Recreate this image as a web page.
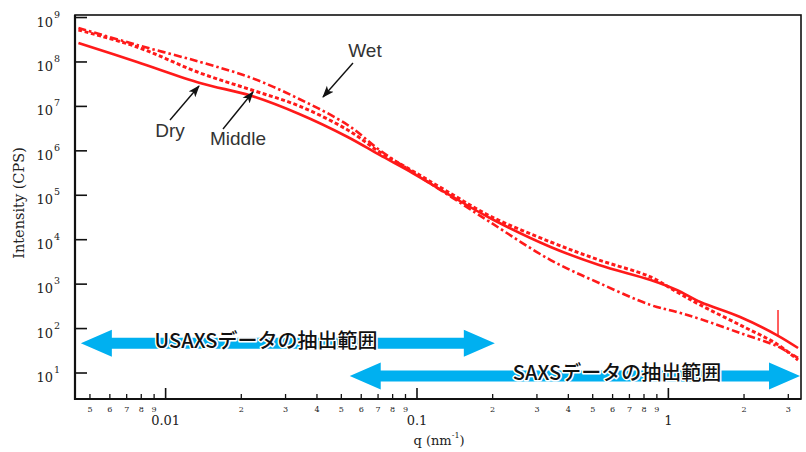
<!DOCTYPE html>
<html lang="ja">
<head>
<meta charset="utf-8">
<script src="https://cdn.jsdelivr.net/npm/d3@7"></script>
<style>
  html, body { margin: 0; padding: 0; background: #fff; }
  svg { display: block; }
</style>
</head>
<body>
<div id="chart"></div>
<script>
// q (nm^-1) sample points shared by the three curves
const qValues = [0.0045, 0.0077, 0.0137, 0.022, 0.034, 0.053, 0.071, 0.096, 0.135, 0.195, 0.34, 0.53, 0.85, 1.08, 1.34, 1.93, 2.7, 3.28];
const dryValues = [2.67e8, 1.0e8, 3.37e7, 1.72e7, 6.75e6, 2.05e6, 8.07e5, 3.17e5, 1.01e5, 3.08e4, 6.86e3, 2.70e3, 1.24e3, 738, 396, 182, 71.6, 36.6];
const middleValues = [5.25e8, 2.17e8, 5.65e7, 2.34e7, 1.02e7, 2.95e6, 9.42e5, 3.52e5, 1.13e5, 3.42e4, 8.88e3, 3.49e3, 1.45e3, 666, 339, 120, 45, 19.6];
const wetValues = [5.82e8, 2.41e8, 1.0e8, 4.36e7, 1.47e7, 3.82e6, 1.04e6, 3.34e5, 9.63e4, 2.5e4, 3.49e3, 1.06e3, 339, 236, 164, 79.4, 40.5, 21.8];

// glitch on the Dry curve near the end
const spikeQ = 2.73;
const spikeIntensity = [70, 262];

// axis ticks
const yMajorTicks = [1e1, 1e2, 1e3, 1e4, 1e5, 1e6, 1e7, 1e8, 1e9];
const yTickExponents = ['1', '2', '3', '4', '5', '6', '7', '8', '9'];
const xMajorTicks = [0.01, 0.1, 1];
const xMajorLabels = ['0.01', '0.1', '1'];
const xMinorTicks = [0.005, 0.006, 0.007, 0.008, 0.009, 0.02, 0.03, 0.04, 0.05, 0.06, 0.07, 0.08, 0.09, 0.2, 0.3, 0.4, 0.5, 0.6, 0.7, 0.8, 0.9, 2, 3];
const xMinorLabels = ['5', '6', '7', '8', '9', '2', '3', '4', '5', '6', '7', '8', '9', '2', '3', '4', '5', '6', '7', '8', '9', '2', '3'];

// q ranges of the extraction windows
const rangeNames = ['USAXSデータの抽出範囲', 'SAXSデータの抽出範囲'];
const rangeStart = [0.0046, 0.054];
const rangeEnd = [0.204, 3.34];
const rangeLevel = [47, 8.6];

const width = 806;
const height = 452;
const margin = { top: 15, right: 5, bottom: 53, left: 75 };
const red = '#ff1a1a';
const blue = '#00b0f0';
const serif = '"DejaVu Serif", "Liberation Serif", serif';

const svg = d3
  .select('#chart')
  .append('svg')
  .attr('width', width)
  .attr('height', height)
  .attr('viewBox', `0 0 ${width} ${height}`);

const x = d3
  .scaleLog()
  .domain([0.00436, 3.37])
  .range([margin.left, width - margin.right]);

const y = d3
  .scaleLog()
  .domain([2.6, 1.14e9])
  .range([height - margin.bottom, margin.top]);

const x0 = margin.left;
const x1 = width - margin.right;
const y0 = height - margin.bottom;
const y1 = margin.top;

// curves
const series = [
  { name: 'Dry', values: dryValues, dash: null, widthPx: 2.6 },
  { name: 'Middle', values: middleValues, dash: '4,2.5', widthPx: 3 },
  { name: 'Wet', values: wetValues, dash: '8,3,2.5,3', widthPx: 2.6 },
];

const line = d3
  .line()
  .x((d) => x(d[0]))
  .y((d) => y(d[1]))
  .curve(d3.curveCatmullRom.alpha(0.5));

svg
  .append('g')
  .selectAll('path')
  .data(series)
  .join('path')
  .attr('fill', 'none')
  .attr('stroke', red)
  .attr('stroke-width', (s) => s.widthPx)
  .attr('stroke-dasharray', (s) => s.dash)
  .attr('d', (s) => line(qValues.map((q, i) => [q, s.values[i]])));

svg
  .append('line')
  .attr('x1', x(spikeQ))
  .attr('x2', x(spikeQ))
  .attr('y1', y(spikeIntensity[0]))
  .attr('y2', y(spikeIntensity[1]))
  .attr('stroke', red)
  .attr('stroke-width', 1.4);

// blue double arrows for the extraction ranges
const shaftHalf = 5.5;
const headLen = 31;
const headHalf = 13.5;

const arrowPoints = (i) => {
  const a = x(rangeStart[i]);
  const b = x(rangeEnd[i]);
  const c = y(rangeLevel[i]);
  return [
    [a, c],
    [a + headLen, c - headHalf],
    [a + headLen, c - shaftHalf],
    [b - headLen, c - shaftHalf],
    [b - headLen, c - headHalf],
    [b, c],
    [b - headLen, c + headHalf],
    [b - headLen, c + shaftHalf],
    [a + headLen, c + shaftHalf],
    [a + headLen, c + headHalf],
  ];
};

const ranges = svg
  .append('g')
  .selectAll('g')
  .data(rangeNames)
  .join('g');

ranges
  .append('polygon')
  .attr('points', (d, i) => arrowPoints(i).map((p) => p.join(',')).join(' '))
  .attr('fill', blue);

ranges
  .append('text')
  .attr('x', (d, i) => (i === 0 ? 266 : 617))
  .attr('y', (d, i) => y(rangeLevel[i]) - 4)
  .attr('text-anchor', 'middle')
  .attr('dominant-baseline', 'central')
  .style('font-family', '"Noto Sans CJK JP", sans-serif')
  .style('font-size', '20px')
  .style('font-weight', '500')
  .style('fill', '#111')
  .style('stroke', '#fff')
  .style('stroke-width', '3px')
  .style('stroke-linejoin', 'round')
  .style('paint-order', 'stroke')
  .text((d) => d);

// frame and axes
svg
  .append('rect')
  .attr('x', x0)
  .attr('y', y1)
  .attr('width', x1 - x0)
  .attr('height', y0 - y1)
  .attr('fill', 'none')
  .attr('stroke', '#111')
  .attr('stroke-width', 1.6);

svg
  .append('path')
  .attr('d', `M${x0},${y1}V${y0}H${x1}`)
  .attr('fill', 'none')
  .attr('stroke', '#111')
  .attr('stroke-width', 2.2);

const yAxis = svg.append('g');

yAxis
  .selectAll('line')
  .data(yMajorTicks)
  .join('line')
  .attr('x1', x0)
  .attr('x2', x0 + 12)
  .attr('y1', (d) => y(d))
  .attr('y2', (d) => y(d))
  .attr('stroke', '#111')
  .attr('stroke-width', 1.6);

const yLabels = yAxis
  .selectAll('text')
  .data(yMajorTicks)
  .join('text')
  .attr('y', (d) => y(d) + 9)
  .style('font-family', serif)
  .style('fill', '#222');

yLabels
  .append('tspan')
  .attr('x', 60)
  .attr('text-anchor', 'end')
  .style('font-size', '13px')
  .text('10');

yLabels
  .append('tspan')
  .attr('dx', 1)
  .attr('dy', -9)
  .style('font-size', '9.5px')
  .text((d, i) => yTickExponents[i]);

const xAxis = svg.append('g');

xAxis
  .selectAll('line.minor')
  .data(xMinorTicks)
  .join('line')
  .attr('class', 'minor')
  .attr('x1', (d) => x(d))
  .attr('x2', (d) => x(d))
  .attr('y1', y0)
  .attr('y2', y0 - 5)
  .attr('stroke', '#111')
  .attr('stroke-width', 1.3);

xAxis
  .selectAll('line.major')
  .data(xMajorTicks)
  .join('line')
  .attr('class', 'major')
  .attr('x1', (d) => x(d))
  .attr('x2', (d) => x(d))
  .attr('y1', y0)
  .attr('y2', y0 - 11)
  .attr('stroke', '#111')
  .attr('stroke-width', 1.6);

xAxis
  .selectAll('text.minor')
  .data(xMinorTicks)
  .join('text')
  .attr('class', 'minor')
  .attr('x', (d) => x(d))
  .attr('y', y0 + 13)
  .attr('text-anchor', 'middle')
  .style('font-family', serif)
  .style('font-size', '8px')
  .style('fill', '#222')
  .text((d, i) => xMinorLabels[i]);

xAxis
  .selectAll('text.major')
  .data(xMajorTicks)
  .join('text')
  .attr('class', 'major')
  .attr('x', (d) => x(d))
  .attr('y', y0 + 26)
  .attr('text-anchor', 'middle')
  .style('font-family', serif)
  .style('font-size', '13px')
  .style('fill', '#222')
  .text((d, i) => xMajorLabels[i]);

// axis titles
const xTitle = svg
  .append('text')
  .attr('x', 439)
  .attr('y', 445)
  .attr('text-anchor', 'middle')
  .style('font-family', serif)
  .style('font-size', '13px')
  .style('fill', '#222');

xTitle.append('tspan').text('q (nm');
xTitle.append('tspan').attr('dy', -7).style('font-size', '8px').text('-1');
xTitle.append('tspan').attr('dy', 7).text(')');

svg
  .append('text')
  .attr('transform', 'translate(24, 203) rotate(-90)')
  .attr('text-anchor', 'middle')
  .style('font-family', serif)
  .style('font-size', '14.5px')
  .style('fill', '#222')
  .text('Intensity (CPS)');

// callouts
svg
  .append('defs')
  .append('marker')
  .attr('id', 'head')
  .attr('viewBox', '0 -5 12 10')
  .attr('refX', 11)
  .attr('refY', 0)
  .attr('markerWidth', 12)
  .attr('markerHeight', 10)
  .attr('markerUnits', 'userSpaceOnUse')
  .attr('orient', 'auto')
  .append('path')
  .attr('d', 'M0,-4.5L12,0L0,4.5L3,0Z')
  .attr('fill', '#111');

const callouts = [
  { text: 'Wet', tx: 365, ty: 57, from: [353, 63], to: [323, 97] },
  { text: 'Dry', tx: 170, ty: 137, from: [170, 120], to: [199, 86] },
  { text: 'Middle', tx: 238, ty: 145, from: [223, 129], to: [253, 92] },
];

const callout = svg.append('g').selectAll('g').data(callouts).join('g');

callout
  .append('line')
  .attr('x1', (d) => d.from[0])
  .attr('y1', (d) => d.from[1])
  .attr('x2', (d) => d.to[0])
  .attr('y2', (d) => d.to[1])
  .attr('stroke', '#111')
  .attr('stroke-width', 1.4)
  .attr('marker-end', 'url(#head)');

callout
  .append('text')
  .attr('x', (d) => d.tx)
  .attr('y', (d) => d.ty)
  .attr('text-anchor', 'middle')
  .style('font-family', '"Liberation Sans", Arial, sans-serif')
  .style('font-size', '19px')
  .style('fill', '#333')
  .text((d) => d.text);
</script>
</body>
</html>
